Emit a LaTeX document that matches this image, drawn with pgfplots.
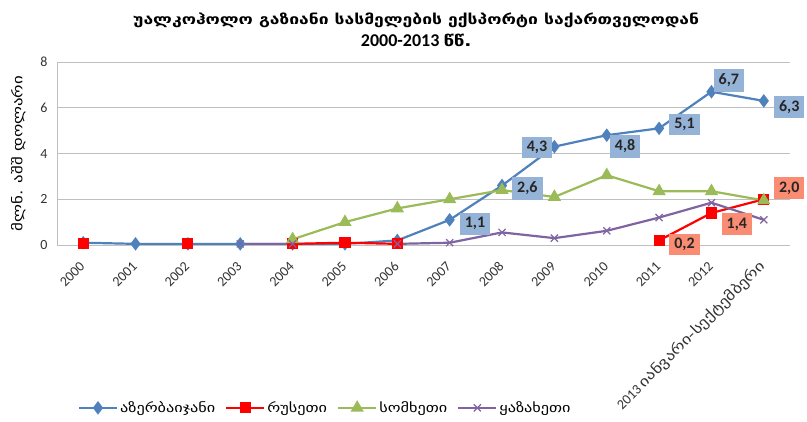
\documentclass[border=0pt]{standalone}
\usepackage{fontspec}
\setmainfont{Carlito}
\newfontfamily\geo[FakeStretch=1.25]{DejaVu Sans}
\usepackage{pgfplots}
\pgfplotsset{compat=1.18}
\definecolor{cblue}{RGB}{79,129,189}
\definecolor{cred}{RGB}{255,0,0}
\definecolor{cgreen}{RGB}{155,187,89}
\definecolor{cpurple}{RGB}{128,100,162}
\definecolor{lblue}{RGB}{149,179,215}
\definecolor{lred}{RGB}{250,140,115}
\definecolor{gridc}{RGB}{191,191,191}
\pgfplotsset{
  lab/.style n args={4}{draw=none, mark=none, forget plot, point meta=explicit,
    nodes near coords={\pgfmathprintnumber[fixed,fixed zerofill,precision=1,use comma]{\pgfplotspointmeta}},
    every node near coord/.append style={fill=#1, anchor=#2, xshift=#3, yshift=#4,
      font=\fontsize{16}{16}\selectfont\bfseries, text=black!85, inner xsep=5pt, inner ysep=4.5pt}},
}
\begin{document}
\begin{tikzpicture}
\begin{axis}[at={(0,0)}, anchor=south west, scale only axis,
  width=733pt, height=183pt,
  xmin=-0.5, xmax=13.5, ymin=0, ymax=8,
  ytick={0,2,4,6,8}, xtick={0,...,13},
  xticklabels={2000,2001,2002,2003,2004,2005,2006,2007,2008,2009,2010,2011,2012,{2013 {\geo იანვარი-სექტემბერი}}},
  /pgf/number format/assume math mode=true,
  major tick length=0pt,
  axis x line=bottom, axis y line=left,
  axis line style={-, draw=gridc, line width=0.8pt},
  ymajorgrids, grid style={draw=gridc, line width=0.8pt},
  tick label style={font=\fontsize{14}{14}\selectfont, text=black!80},
  xticklabel style={rotate=45, anchor=east, inner sep=1pt},
  xticklabel shift=18pt,
  yticklabel style={xshift=-6pt},
  ylabel={\geo მლნ. აშშ დოლარი},
  ylabel style={at={(axis description cs:-0.053,0.5)}, anchor=center, font=\fontsize{13.5}{13.5}\selectfont},
  title={{\fontsize{14}{20}\selectfont\geo\bfseries უალკოჰოლო გაზიანი სასმელების ექსპორტი საქართველოდან}\\{\bfseries 2000-2013} {\fontsize{15}{20}\selectfont\geo\bfseries წწ.}},
  title style={at={(axis description cs:0.49,1)}, anchor=south, yshift=6pt, align=center, font=\fontsize{18}{22}\selectfont},
  legend columns=4,
  legend style={at={(axis description cs:0.366,-0.89)}, anchor=center, draw=none, fill=none,
    font=\fontsize{13}{13}\selectfont\geo, /tikz/every even column/.append style={column sep=8pt}},
  legend image code/.code={\draw[#1, mark repeat=2, mark phase=2] plot coordinates {(0pt,0pt) (19pt,0pt) (38pt,0pt)};},
  unbounded coords=jump,
  clip=false,
]
\addplot[cblue, line width=2.2pt, mark=diamond*, mark size=5pt, mark options={solid, fill=cblue, draw=cblue}]
 coordinates {(0,0.1)(1,0.05)(2,0.05)(3,0.05)(4,0.05)(5,0.05)(6,0.2)(7,1.1)(8,2.6)(9,4.3)(10,4.8)(11,5.1)(12,6.7)(13,6.3)};
\addlegendentry{აზერბაიჯანი}
\addplot[cred, line width=2.2pt, mark=square*, mark size=4.5pt, mark options={solid, fill=cred, draw=cred}]
 coordinates {(0,0.05)(1,nan)(2,0.05)(3,nan)(4,0.05)(5,0.1)(6,0.05)(7,nan)(8,nan)(9,nan)(10,nan)(11,0.2)(12,1.4)(13,2.0)};
\addlegendentry{რუსეთი}
\addplot[cgreen, line width=2.2pt, mark=triangle*, mark size=5.5pt, mark options={solid, fill=cgreen, draw=cgreen}]
 coordinates {(4,0.25)(5,1.0)(6,1.6)(7,2.0)(8,2.4)(9,2.1)(10,3.05)(11,2.35)(12,2.35)(13,1.95)};
\addlegendentry{სომხეთი}
\addplot[cpurple, line width=2.2pt, mark=x, mark size=5pt, mark options={solid, line width=1.2pt, draw=cpurple}]
 coordinates {(3,0.05)(4,0.05)(5,nan)(6,0.05)(7,0.1)(8,0.55)(9,0.3)(10,0.62)(11,1.2)(12,1.85)(13,1.1)};
\addlegendentry{ყაზახეთი}
% data labels
\addplot[lab={lblue}{west}{10pt}{-4pt}] coordinates {(7,1.1) [1.1]};
\addplot[lab={lblue}{west}{10pt}{-3pt}] coordinates {(8,2.6) [2.6]};
\addplot[lab={lblue}{east}{-2pt}{-1pt}] coordinates {(9,4.3) [4.3]};
\addplot[lab={lblue}{north west}{3pt}{0pt}] coordinates {(10,4.8) [4.8]};
\addplot[lab={lblue}{west}{10pt}{4pt}] coordinates {(11,5.1) [5.1]};
\addplot[lab={lblue}{south west}{2pt}{0pt}] coordinates {(12,6.7) [6.7]};
\addplot[lab={lblue}{west}{10pt}{-6pt}] coordinates {(13,6.3) [6.3]};
\addplot[lab={lred}{west}{10pt}{-4pt}] coordinates {(11,0.2) [0.2]};
\addplot[lab={lred}{north west}{10pt}{0pt}] coordinates {(12,1.4) [1.4]};
\addplot[lab={lred}{south west}{10pt}{0pt}] coordinates {(13,2.0) [2.0]};
\end{axis}
\pgfresetboundingbox
\path[use as bounding box] (-57pt,-176pt) rectangle (750pt,245pt);
\end{tikzpicture}
\end{document}
